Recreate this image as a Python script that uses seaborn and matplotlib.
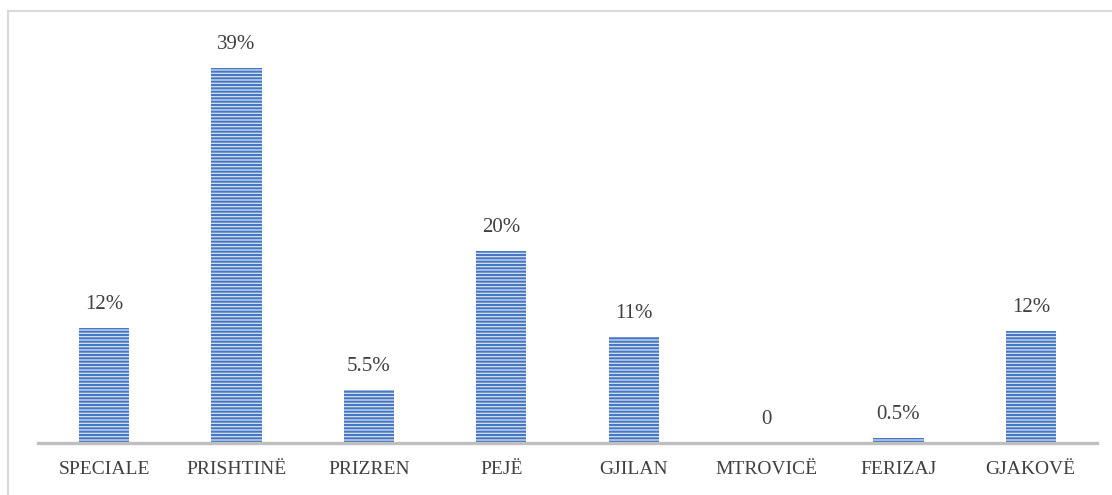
import matplotlib
matplotlib.use("Agg")
import matplotlib.pyplot as plt
import seaborn as sns
import pandas as pd
from matplotlib.patches import Rectangle

regions = ['SPECIALE', 'PRISHTINË', 'PRIZREN', 'PEJË', 'GJILAN', 'MTROVICË', 'FERIZAJ', 'GJAKOVË']
values = [12, 39, 5.5, 20, 11, 0, 0.5, 11.7]
labels = ['12%', '39%', '5.5%', '20%', '11%', '0', '0.5%', '12%']

df = pd.DataFrame({'region': regions, 'value': values})

sns.set_style('white')
plt.rcParams['font.family'] = ['Liberation Serif', 'DejaVu Serif']
plt.rcParams['hatch.linewidth'] = 1.5

W, H = 1112, 495
fig = plt.figure(figsize=(W / 100, H / 100), dpi=100)
ax = fig.add_axes([38 / W, (H - 443) / H, (1097 - 38) / W, (443 - 20) / H])

sns.barplot(data=df, x='region', y='value', ax=ax, width=0.38,
            color='#d6e2f3', edgecolor='#4a78bf', linewidth=0, saturation=1)
for p in ax.patches:
    p.set_hatch('-----')
    p.set_edgecolor('#4677c2')
    p.set_linewidth(0)

for i, (v, lab) in enumerate(zip(values, labels)):
    ax.annotate(lab, (i, v), xytext=(0, 10), textcoords='offset points',
                ha='center', va='bottom', fontsize=15, color='#404040')

ax.set_ylim(0, 44)
ax.set_xlim(-0.5, len(regions) - 0.5)
ax.set_xlabel('')
ax.set_ylabel('')
ax.set_yticks([])
ax.tick_params(axis='x', length=0, pad=13, labelsize=14, labelcolor='#404040')
for s in ['top', 'right', 'left']:
    ax.spines[s].set_visible(False)
ax.spines['bottom'].set_color('#bfbfbf')
ax.spines['bottom'].set_linewidth(2.4)

fig.patches.append(Rectangle((8 / W, -0.1), 1.2, (H - 11) / H + 0.1,
                             transform=fig.transFigure, fill=False,
                             edgecolor='#d9d9d9', linewidth=1.5))

fig.savefig('out.png', dpi=100)
